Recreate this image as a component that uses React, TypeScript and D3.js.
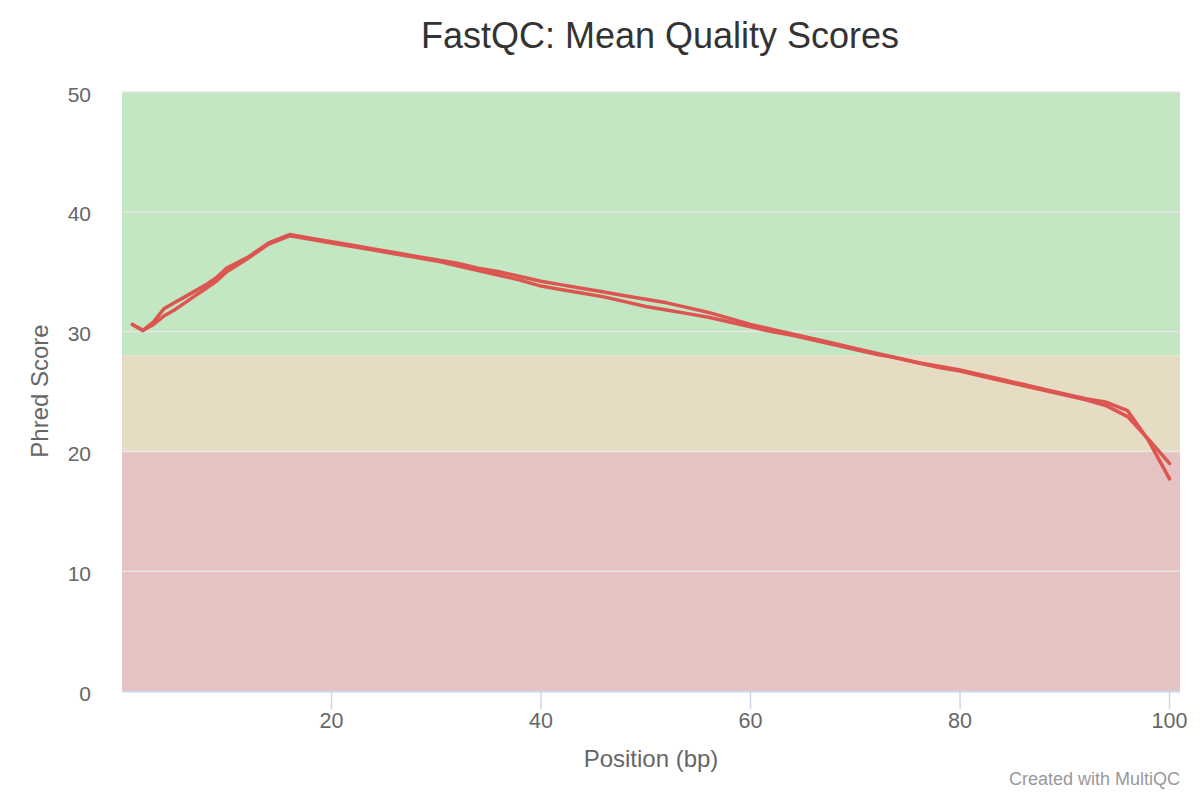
import React from "react";
import * as d3 from "d3";

const positions = [1,2,3,4,5,6,7,8,9,10,12,14,16,18,20,22,24,26,28,30,32,34,36,38,40,42,44,46,48,50,52,54,56,58,60,62,64,66,68,70,72,74,76,78,80,82,84,86,88,90,92,94,96,98,100];
const sampleA = [30.6,30.1,30.8,31.9,32.4,32.9,33.4,33.9,34.5,35.3,36.2,37.4,38.1,37.8,37.5,37.2,36.9,36.6,36.3,36.0,35.7,35.3,35.0,34.6,34.2,33.9,33.6,33.3,33.0,32.7,32.4,32.0,31.6,31.1,30.6,30.2,29.8,29.4,29.0,28.6,28.2,27.8,27.4,27.1,26.8,26.4,26.0,25.6,25.2,24.8,24.4,24.1,23.4,20.9,17.7];
const sampleB = [30.6,30.1,30.6,31.3,31.8,32.4,33.0,33.6,34.2,35.0,36.1,37.3,38.0,37.7,37.4,37.1,36.8,36.5,36.2,35.9,35.5,35.1,34.7,34.3,33.8,33.5,33.2,32.9,32.5,32.1,31.8,31.5,31.2,30.8,30.4,30.0,29.7,29.3,28.9,28.5,28.1,27.8,27.4,27.0,26.7,26.3,25.9,25.5,25.1,24.7,24.3,23.8,22.9,21.0,19.0];
const seriesList = [sampleA, sampleB];
const bands = [
  { from: 28, to: 50, color: "#c3e6c3" },
  { from: 20, to: 28, color: "#e6dcc3" },
  { from: 0, to: 20, color: "#e6c3c3" },
];
const yTicks = [0, 10, 20, 30, 40, 50];
const xTicks = [20, 40, 60, 80, 100];

export default function App() {
  const W = 1200, H = 800;
  const left = 122, right = 1180, top = 92, bottom = 691;
  const x = d3.scaleLinear().domain([0, 101]).range([left, right]);
  const y = d3.scaleLinear().domain([0, 50]).range([bottom, top]);
  const line = d3.line<number>().x((_, i) => x(positions[i])).y((d) => y(d));
  const font = "'Liberation Sans', Arial, sans-serif";
  return (
    <svg width={W} height={H} style={{ position: "absolute", left: 0, top: 0, background: "#fff" }} fontFamily={font}>
      {bands.map((b, i) => (
        <rect key={i} x={left} width={right - left} y={y(b.to)} height={y(b.from) - y(b.to)} fill={b.color} />
      ))}
      {yTicks.filter((t) => t > 0).map((t) => (
        <line key={t} x1={left} x2={right} y1={y(t)} y2={y(t)} stroke="#e6e6e6" strokeWidth={1.5} />
      ))}
      <line x1={left} x2={right} y1={bottom + 0.5} y2={bottom + 0.5} stroke="#ccd6eb" strokeWidth={2} />
      {xTicks.map((t) => (
        <line key={t} x1={x(t)} x2={x(t)} y1={bottom} y2={bottom + 18} stroke="#ccd6eb" strokeWidth={1.5} />
      ))}
      {seriesList.map((s, i) => (
        <path key={i} d={line(s) || ""} fill="none" stroke="#dc5550" strokeWidth={3.5} strokeLinejoin="round" strokeLinecap="round" />
      ))}
      {yTicks.map((t) => (
        <text key={t} x={91} y={y(t) + 9.5} textAnchor="end" fontSize={21} fill="#666">{t}</text>
      ))}
      {xTicks.map((t) => (
        <text key={t} x={x(t)} y={728} textAnchor="middle" fontSize={21.5} fill="#666">{t}</text>
      ))}
      <text x={651} y={767} textAnchor="middle" fontSize={24} fill="#666">Position (bp)</text>
      <text transform="translate(48,391) rotate(-90)" textAnchor="middle" fontSize={24} fill="#666">Phred Score</text>
      <text x={660} y={48} textAnchor="middle" fontSize={36} fill="#333">FastQC: Mean Quality Scores</text>
      <text x={1180} y={785} textAnchor="end" fontSize={18} fill="#999">Created with MultiQC</text>
    </svg>
  );
}
